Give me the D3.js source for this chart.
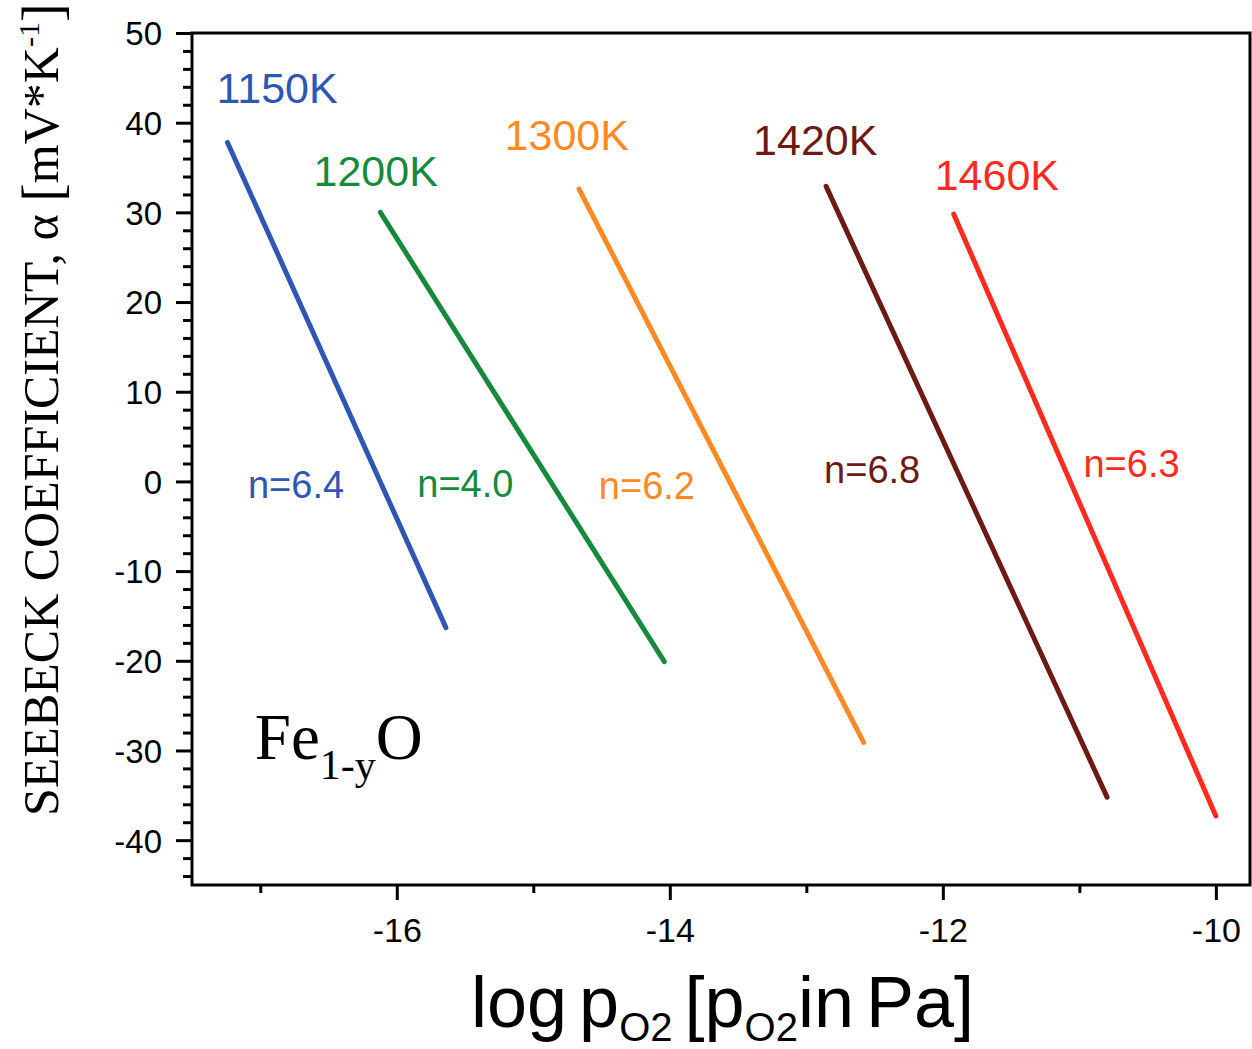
<!DOCTYPE html>
<html>
<head>
<meta charset="utf-8">
<script src="https://cdn.jsdelivr.net/npm/d3@7"></script>
<style>
  body { margin: 0; background: #fff; }
  .tick text { font-family: "Liberation Sans", Arial, sans-serif; fill: #000; }
</style>
</head>
<body>
<div id="chart"></div>
<script>
// temperatures and fitted lines (start / end points)
var temps   = ["1150K", "1200K", "1300K", "1420K", "1460K"];
var xStart  = [-17.24, -16.12, -14.665, -12.855, -11.92];
var yStart  = [37.8, 30.0, 32.6, 32.9, 29.8];
var xEnd    = [-15.64, -14.04, -12.58, -10.797, -10.0];
var yEnd    = [-16.3, -20.1, -29.1, -35.2, -37.3];
var slopes  = ["n=6.4", "n=4.0", "n=6.2", "n=6.8", "n=6.3"];
var colors  = ["#2f56b3", "#17893d", "#ff8a24", "#6d1a15", "#ff2b1f"];

// annotation anchors in data units
var tempLabelX  = [-17.32, -16.61, -15.21, -13.39, -12.06];
var tempLabelY  = [42.2, 32.9, 36.96, 36.4, 32.5];
var slopeLabelX = [-17.09, -15.85, -14.52, -12.87, -10.97];
var slopeLabelY = [-1.9, -1.73, -1.95, -0.2, 0.45];

var xMajor = [-16, -14, -12, -10];
var xMinor = [-17, -15, -13, -11];
var yMajor = [-40, -30, -20, -10, 0, 10, 20, 30, 40, 50];
var yMinor = d3.range(-44, 50, 2).filter(function(v) { return v % 10 !== 0; });

var margin = {top: 33, right: 2, bottom: 164, left: 192},
    width = 1252 - margin.left - margin.right,
    height = 1049 - margin.top - margin.bottom;

var x = d3.scaleLinear().domain([-17.5, -9.75]).range([0, width]);
var y = d3.scaleLinear().domain([-45, 50]).range([height, 0]);

var plain = function(d) { return String(d); };

var svg = d3.select("#chart").append("svg")
    .attr("width", 1252)
    .attr("height", 1049)
  .append("g")
    .attr("transform", "translate(" + margin.left + "," + margin.top + ")");

var lines = temps.map(function(t, i) {
  return {temp: t, n: slopes[i], color: colors[i],
          pts: [[xStart[i], yStart[i]], [xEnd[i], yEnd[i]]],
          tx: tempLabelX[i], ty: tempLabelY[i], nx: slopeLabelX[i], ny: slopeLabelY[i]};
});

// minor ticks
svg.append("g")
    .attr("transform", "translate(0," + height + ")")
    .call(d3.axisBottom(x).tickValues(xMinor).tickSize(8).tickSizeOuter(0).tickFormat(""))
    .call(function(g) { g.select(".domain").remove(); g.selectAll("line").attr("stroke-width", 3); });
svg.append("g")
    .call(d3.axisLeft(y).tickValues(yMinor).tickSize(9).tickSizeOuter(0).tickFormat(""))
    .call(function(g) { g.select(".domain").remove(); g.selectAll("line").attr("stroke-width", 3); });

// major ticks
svg.append("g")
    .attr("transform", "translate(0," + height + ")")
    .call(d3.axisBottom(x).tickValues(xMajor).tickSize(15).tickSizeOuter(0).tickFormat(plain))
    .call(function(g) {
      g.select(".domain").remove();
      g.selectAll("line").attr("stroke-width", 3);
      g.selectAll("text").attr("y", 57).attr("dy", 0).attr("font-size", 34);
    });
svg.append("g")
    .call(d3.axisLeft(y).tickValues(yMajor).tickSize(16).tickSizeOuter(0).tickFormat(plain))
    .call(function(g) {
      g.select(".domain").remove();
      g.selectAll("line").attr("stroke-width", 3);
      g.selectAll("text").attr("x", -30).attr("dy", "0.36em").attr("font-size", 33);
    });

// frame
svg.append("rect")
    .attr("width", width)
    .attr("height", height)
    .attr("fill", "none")
    .attr("stroke", "#000")
    .attr("stroke-width", 3);

var line = d3.line()
    .x(function(d) { return x(d[0]); })
    .y(function(d) { return y(d[1]); });

svg.selectAll(".fit")
    .data(lines)
  .enter().append("path")
    .attr("class", "fit")
    .attr("d", function(d) { return line(d.pts); })
    .attr("stroke", function(d) { return d.color; })
    .attr("stroke-width", 5)
    .attr("stroke-linecap", "round")
    .attr("fill", "none");

svg.selectAll(".tlabel")
    .data(lines)
  .enter().append("text")
    .attr("class", "tlabel")
    .attr("x", function(d) { return x(d.tx); })
    .attr("y", function(d) { return y(d.ty); })
    .attr("fill", function(d) { return d.color; })
    .style("font-family", "Liberation Sans, Arial, sans-serif")
    .style("font-size", "43px")
    .text(function(d) { return d.temp; });

svg.selectAll(".nlabel")
    .data(lines)
  .enter().append("text")
    .attr("class", "nlabel")
    .attr("x", function(d) { return x(d.nx); })
    .attr("y", function(d) { return y(d.ny); })
    .attr("fill", function(d) { return d.color; })
    .style("font-family", "Liberation Sans, Arial, sans-serif")
    .style("font-size", "38px")
    .text(function(d) { return d.n; });

// Fe1-yO
var fe = svg.append("text")
    .attr("x", x(-17.04))
    .attr("y", y(-31.0))
    .style("font-family", "Liberation Serif, Times New Roman, serif")
    .style("font-size", "65px");
fe.append("tspan").text("Fe");
fe.append("tspan").attr("dy", 20).style("font-size", "42px").text("1-y");
fe.append("tspan").attr("dy", -20).text("O");

// x axis title
var xt = svg.append("text")
    .attr("x", 279)
    .attr("y", height + 142)
    .style("font-family", "Liberation Sans, Arial, sans-serif")
    .style("font-size", "72px")
    .style("word-spacing", "-8px");
xt.append("tspan").text("log p");
xt.append("tspan").attr("dy", 14).style("font-size", "40px").text("O2");
xt.append("tspan").attr("dy", -14).text(" [p");
xt.append("tspan").attr("dy", 14).style("font-size", "40px").text("O2");
xt.append("tspan").attr("dy", -14).text("in Pa]");

// y axis title
var yt = svg.append("text")
    .attr("transform", "translate(" + (58 - margin.left) + "," + (816 - margin.top) + ") rotate(-90)")
    .style("font-family", "Liberation Serif, Times New Roman, serif")
    .style("font-size", "50px");
yt.append("tspan").text("SEEBECK COEFFICIENT, α ");
yt.append("tspan").style("font-size", "56px").attr("dy", 3).text("[");
yt.append("tspan").attr("dy", -3).text("mV*K");
yt.append("tspan").style("font-size", "30px").attr("dy", -19).text("-1");
yt.append("tspan").style("font-size", "56px").attr("dy", 22).text("]");
</script>
</body>
</html>
